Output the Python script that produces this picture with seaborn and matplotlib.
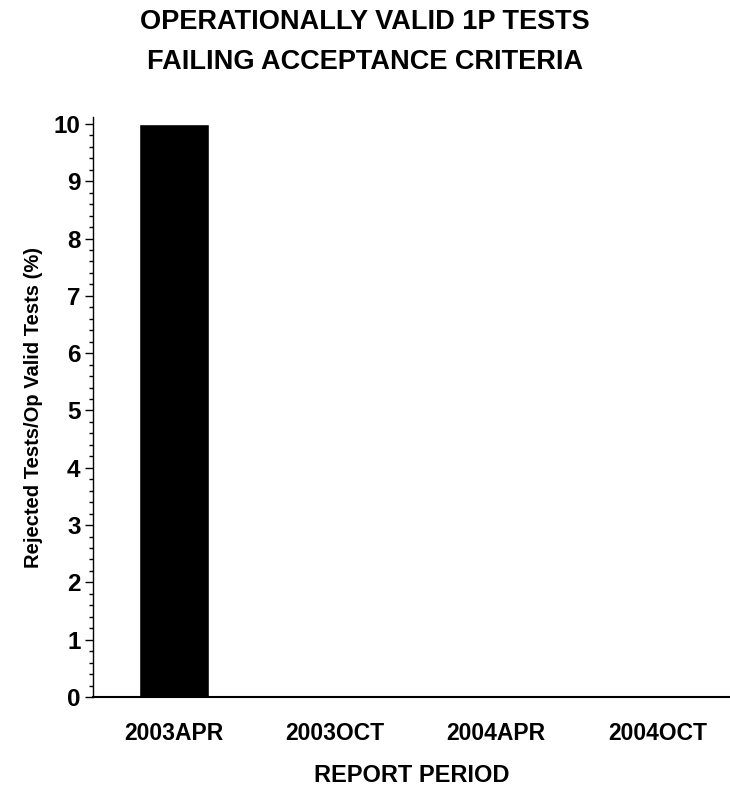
import matplotlib
matplotlib.use("Agg")
import matplotlib.pyplot as plt
import matplotlib.ticker as mticker
import pandas as pd
import seaborn as sns

# Report periods and percent of op-valid tests rejected
periods = ["2003APR", "2003OCT", "2004APR", "2004OCT"]
rejected_pct = [10.0, 0.0, 0.0, 0.0]

FONT = ["Liberation Sans", "DejaVu Sans"]

sns.set_theme(style="white")
plt.rcParams["font.family"] = FONT
plt.rcParams["font.weight"] = "bold"
for key in ["text.color", "axes.labelcolor", "xtick.color", "ytick.color"]:
    plt.rcParams[key] = "black"

df = pd.DataFrame({"period": periods, "pct": rejected_pct})

fig = plt.figure(figsize=(7.3, 7.9), dpi=100)
ax = fig.add_axes([93 / 730, 1 - 697 / 790, 1 - 93 / 730, (697 - 117) / 790])

sns.barplot(data=df, x="period", y="pct", color="black", width=0.435,
            saturation=1, ax=ax)

ax.set_xlim(-0.5, 3.45)
ax.set_ylim(0, 10.12)
ax.yaxis.set_major_locator(mticker.MultipleLocator(1))
ax.yaxis.set_minor_locator(mticker.MultipleLocator(0.2))
ax.tick_params(axis="y", which="major", direction="out", length=6, width=1,
               color="black", labelsize=17.5, pad=3, left=True)
ax.tick_params(axis="y", which="minor", direction="out", length=3, width=1,
               color="black", left=True)
ax.tick_params(axis="x", length=0, labelsize=16.5, pad=18)
for lbl in ax.get_xticklabels() + ax.get_yticklabels():
    lbl.set_fontweight("bold")

sns.despine(ax=ax, top=True, right=True)
ax.spines["left"].set_color("black")
ax.spines["bottom"].set_color("black")
ax.spines["left"].set_linewidth(1)
ax.spines["bottom"].set_linewidth(1.5)

ax.set_xlabel("REPORT PERIOD", fontsize=17, fontweight="bold", labelpad=14)
ax.set_ylabel("Rejected Tests/Op Valid Tests (%)", fontsize=14.5,
              fontweight="bold", labelpad=8)

fig.text(0.5, 1 - 22 / 790, "OPERATIONALLY VALID 1P TESTS", ha="center",
         va="center", fontsize=19.5, fontweight="bold")
fig.text(0.5, 1 - 62 / 790, "FAILING ACCEPTANCE CRITERIA", ha="center",
         va="center", fontsize=19.5, fontweight="bold")

fig.savefig("out.png", dpi=100)
plt.close(fig)
